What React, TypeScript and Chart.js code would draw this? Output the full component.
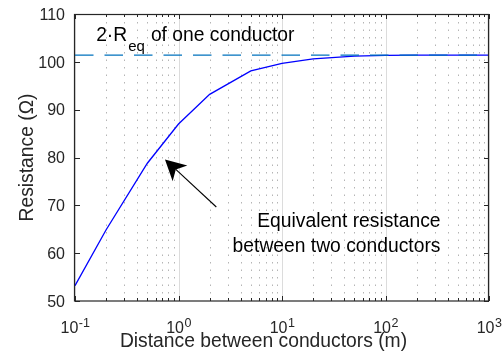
import React, { useEffect, useRef } from 'react';
import { Chart, registerables } from 'chart.js';

Chart.register(...registerables);

// ---- data ----
const distances = [0.1, 0.2, 0.5, 1, 2, 5, 10, 20, 50, 100, 200, 500, 1000];
const resistance = [53.2, 64.9, 78.8, 87.0, 93.2, 98.1, 99.7, 100.6, 101.2, 101.35, 101.4, 101.4, 101.4];
const asymptoteX = [0.1, 1000];
const asymptoteY = [101.4, 101.4];

// ---- axes ----
const xDecades = [0.1, 1, 10, 100, 1000];
const xDecadeExponents = ['-1', '0', '1', '2', '3'];
const xMinorSteps = [2, 3, 4, 5, 6, 7, 8, 9];
const yTicks = [50, 60, 70, 80, 90, 100, 110];
const yTickLabels = ['50', '60', '70', '80', '90', '100', '110'];

// ---- text ----
const xLabel = 'Distance between conductors (m)';
const yLabel = 'Resistance (\u03A9)';
const refLabelMain = '2\u00B7R';
const refLabelSub = 'eq';
const refLabelRest = 'of one conductor';
const curveLabelLines = ['Equivalent resistance', 'between two conductors'];

// annotation anchor points (data coordinates)
const arrowTail = { x: 2.32, y: 69.65 };
const arrowTip = { x: 0.74, y: 79.6 };
const refLabelAnchor = { x: 0.16, y: 104.42 };
const curveLabelAnchor = { x: 340, y: 65.53 };

const FONT = '"Liberation Sans", Arial, Helvetica, sans-serif';
const AXIS_COLOR = '#262626';

const decorPlugin = {
  id: 'decor',
  beforeDatasetsDraw(chart: any) {
    const { ctx, chartArea: a, scales } = chart;
    const x = scales.x;
    ctx.save();
    // minor dotted grid
    ctx.strokeStyle = '#b5b5b5';
    ctx.lineWidth = 1;
    ctx.setLineDash([1.5, 6]);
    for (const d of xDecades.slice(0, -1)) {
      for (const m of xMinorSteps) {
        const px = Math.round(x.getPixelForValue(d * m)) + 0.5;
        ctx.beginPath();
        ctx.moveTo(px, a.bottom);
        ctx.lineTo(px, a.top);
        ctx.stroke();
      }
    }
    // decade grid
    ctx.setLineDash([]);
    ctx.strokeStyle = '#dcdcdc';
    for (const d of xDecades) {
      const px = Math.round(x.getPixelForValue(d)) + 0.5;
      ctx.beginPath();
      ctx.moveTo(px, a.bottom);
      ctx.lineTo(px, a.top);
      ctx.stroke();
    }
    ctx.restore();
  },
  afterDatasetsDraw(chart: any) {
    const { ctx, chartArea: a, scales } = chart;
    const x = scales.x;
    const y = scales.y;
    ctx.save();

    // box
    ctx.strokeStyle = AXIS_COLOR;
    ctx.lineWidth = 1.2;
    ctx.setLineDash([]);
    ctx.strokeRect(a.left - 0.5, a.top + 0.5, a.right - a.left, a.bottom - a.top - 0.5);

    // x ticks (inward, top and bottom)
    ctx.lineWidth = 1;
    const vtick = (px: number, len: number) => {
      ctx.beginPath();
      ctx.moveTo(px, a.bottom);
      ctx.lineTo(px, a.bottom - len);
      ctx.moveTo(px, a.top);
      ctx.lineTo(px, a.top + len);
      ctx.stroke();
    };
    for (const d of xDecades) vtick(Math.round(x.getPixelForValue(d)) + 0.5, 5);
    for (const d of xDecades.slice(0, -1)) {
      for (const m of xMinorSteps) vtick(Math.round(x.getPixelForValue(d * m)) + 0.5, 3);
    }
    // y ticks (inward, left and right)
    for (const v of yTicks) {
      const py = Math.round(y.getPixelForValue(v)) + 0.5;
      ctx.beginPath();
      ctx.moveTo(a.left, py);
      ctx.lineTo(a.left + 5, py);
      ctx.moveTo(a.right, py);
      ctx.lineTo(a.right - 5, py);
      ctx.stroke();
    }

    // y tick labels
    ctx.fillStyle = AXIS_COLOR;
    ctx.font = `16px ${FONT}`;
    ctx.textAlign = 'right';
    ctx.textBaseline = 'alphabetic';
    yTicks.forEach((v, i) => {
      const py = y.getPixelForValue(v);
      ctx.fillText(yTickLabels[i], a.left - 10, py + 5.8);
    });

    // x tick labels: 10^n
    ctx.textAlign = 'left';
    xDecades.forEach((d, i) => {
      const px = x.getPixelForValue(d);
      ctx.font = `16px ${FONT}`;
      const wb = ctx.measureText('10').width;
      ctx.font = `12.5px ${FONT}`;
      const ws = ctx.measureText(xDecadeExponents[i]).width;
      const start = px - (wb + ws) / 2;
      ctx.font = `16px ${FONT}`;
      ctx.fillText('10', start, a.bottom + 32.3);
      ctx.font = `12.5px ${FONT}`;
      ctx.fillText(xDecadeExponents[i], start + wb + 0.5, a.bottom + 26);
    });

    // axis labels
    ctx.font = `19.3px ${FONT}`;
    ctx.textAlign = 'center';
    ctx.fillText(xLabel, 263.5, a.bottom + 45.7);
    ctx.save();
    ctx.translate(33, (a.top + a.bottom) / 2);
    ctx.rotate(-Math.PI / 2);
    ctx.fillText(yLabel, 0, 0);
    ctx.restore();

    // reference label: 2·R_eq of one conductor
    ctx.fillStyle = '#000';
    ctx.textAlign = 'left';
    const rx = x.getPixelForValue(refLabelAnchor.x);
    const ry = y.getPixelForValue(refLabelAnchor.y);
    ctx.font = `19.3px ${FONT}`;
    ctx.fillText(refLabelMain, rx, ry);
    const wm = ctx.measureText(refLabelMain).width;
    ctx.font = `15px ${FONT}`;
    ctx.fillText(refLabelSub, rx + wm + 1, ry + 10.3);
    const wsub = ctx.measureText(refLabelSub).width;
    ctx.font = `19.3px ${FONT}`;
    ctx.fillText(refLabelRest, rx + wm + 1 + wsub + 6, ry);

    // curve label
    const cx = x.getPixelForValue(curveLabelAnchor.x);
    const cy = y.getPixelForValue(curveLabelAnchor.y);
    ctx.textAlign = 'right';
    curveLabelLines.forEach((line, i) => {
      ctx.fillText(line, cx, cy + i * 25);
    });

    // arrow
    const tx = x.getPixelForValue(arrowTip.x);
    const ty = y.getPixelForValue(arrowTip.y);
    const sx = x.getPixelForValue(arrowTail.x);
    const sy = y.getPixelForValue(arrowTail.y);
    const dx = sx - tx;
    const dy = sy - ty;
    const len = Math.hypot(dx, dy);
    const ux = dx / len;
    const uy = dy / len;
    const nx = -uy;
    const ny = ux;
    const L = 20.5;
    const W = 10.8;
    const notch = L * 0.72;
    ctx.strokeStyle = '#000';
    ctx.lineWidth = 1.1;
    ctx.beginPath();
    ctx.moveTo(sx, sy);
    ctx.lineTo(tx + ux * notch, ty + uy * notch);
    ctx.stroke();
    ctx.fillStyle = '#000';
    ctx.beginPath();
    ctx.moveTo(tx, ty);
    ctx.lineTo(tx + ux * L + nx * W, ty + uy * L + ny * W);
    ctx.lineTo(tx + ux * notch, ty + uy * notch);
    ctx.lineTo(tx + ux * L - nx * W, ty + uy * L - ny * W);
    ctx.closePath();
    ctx.fill();

    ctx.restore();
  },
};

export default function App() {
  const ref = useRef<HTMLCanvasElement | null>(null);
  useEffect(() => {
    document.body.style.margin = '0';
    const canvas = ref.current;
    if (!canvas) return;
    const chart = new Chart(canvas, {
      type: 'line',
      data: {
        datasets: [
          {
            data: asymptoteX.map((v, i) => ({ x: v, y: asymptoteY[i] })),
            borderColor: '#0072BD',
            borderWidth: 1.3,
            borderDash: [18.5, 11],
            pointRadius: 0,
            tension: 0,
          },
          {
            data: distances.map((v, i) => ({ x: v, y: resistance[i] })),
            borderColor: '#0000FF',
            borderWidth: 1.3,
            pointRadius: 0,
            tension: 0,
          },
        ],
      },
      options: {
        animation: false,
        responsive: false,
        maintainAspectRatio: false,
        devicePixelRatio: 1,
        layout: { padding: { left: 75, right: 13, top: 14, bottom: 55 } },
        plugins: { legend: { display: false }, tooltip: { enabled: false } },
        scales: {
          x: { type: 'logarithmic', min: 0.1, max: 1000, display: false },
          y: { type: 'linear', min: 50, max: 110, display: false },
        },
      },
      plugins: [decorPlugin],
    });
    return () => chart.destroy();
  }, []);
  return (
    <div style={{ width: 502, height: 356, background: '#fff' }}>
      <canvas ref={ref} width={502} height={356} style={{ display: 'block' }} />
    </div>
  );
}
